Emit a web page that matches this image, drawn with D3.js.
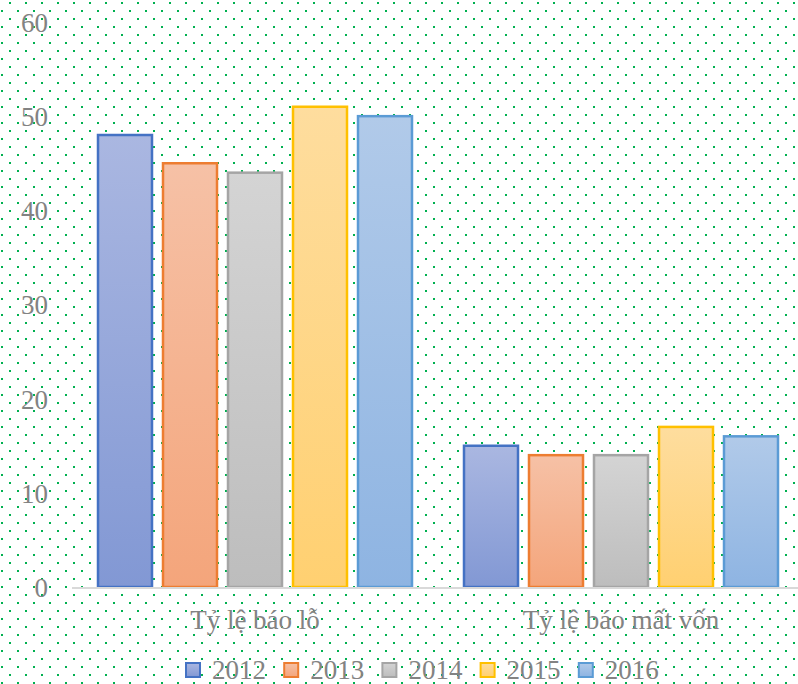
<!DOCTYPE html>
<html>
<head>
<meta charset="utf-8">
<script src="https://cdn.jsdelivr.net/npm/d3@7"></script>
<style>
  html, body { margin: 0; padding: 0; background: #fff; }
  svg { display: block; }
</style>
</head>
<body>
<svg id="chart" width="798" height="684"></svg>
<script>
// Chart data
const categories = ["Tỷ lệ báo lỗ", "Tỷ lệ báo mất vốn"];
const years = ["2012", "2013", "2014", "2015", "2016"];
const values2012 = [48, 15];
const values2013 = [45, 14];
const values2014 = [44, 14];
const values2015 = [51, 17];
const values2016 = [50, 16];
const yTicks = [0, 10, 20, 30, 40, 50, 60];

const seriesValues = [values2012, values2013, values2014, values2015, values2016];

// Palette: stroke plus light-to-deeper fill gradient per year
const strokeColors = ["#4472c4", "#ed7d31", "#a5a5a5", "#ffc000", "#5b9bd5"];
const gradTop = ["#aab7e1", "#f6c1a6", "#d4d4d4", "#fedd9e", "#b1cae9"];
const gradBottom = ["#8298d4", "#f4a57b", "#bdbdbd", "#ffd071", "#8eb4e2"];

const svg = d3.select("#chart");
const W = 798, H = 684;
const textColor = "#838383";
const fontFamily = "'Liberation Serif', 'Times New Roman', serif";

const defs = svg.append("defs");

// Green dotted background, pixel-aligned
const pat = defs.append("pattern")
  .attr("id", "dots")
  .attr("patternUnits", "userSpaceOnUse")
  .attr("width", 16).attr("height", 16);
pat.append("rect").attr("x", 9).attr("y", 2).attr("width", 2).attr("height", 2)
  .attr("fill", "#00b050").attr("shape-rendering", "crispEdges");
pat.append("rect").attr("x", 1).attr("y", 10).attr("width", 2).attr("height", 2)
  .attr("fill", "#00b050").attr("shape-rendering", "crispEdges");

svg.append("rect").attr("width", W).attr("height", H).attr("fill", "#ffffff");
svg.append("rect").attr("width", W).attr("height", H).attr("fill", "url(#dots)");

years.forEach((yr, i) => {
  const g = defs.append("linearGradient")
    .attr("id", "grad" + yr)
    .attr("x1", 0).attr("y1", 0).attr("x2", 0).attr("y2", 1);
  g.append("stop").attr("offset", "0%").attr("stop-color", gradTop[i]);
  g.append("stop").attr("offset", "100%").attr("stop-color", gradBottom[i]);
});

// Scales
const x0 = d3.scaleBand().domain(categories).range([72, 804]).padding(0);
const x1 = d3.scaleBand().domain(years).range([0, x0.bandwidth()])
  .paddingInner(11 / 65).paddingOuter(0.4);
const y = d3.scaleLinear().domain([0, 60]).range([587, 22]);

// Y axis labels (no axis line)
const yAxis = svg.append("g")
  .attr("transform", "translate(48,0)")
  .call(d3.axisLeft(y).tickValues(yTicks).tickSize(0).tickPadding(0));
yAxis.select(".domain").remove();
yAxis.selectAll("text")
  .attr("fill", textColor)
  .attr("font-family", fontFamily)
  .attr("font-size", 27)
  .attr("dy", "0.35em");

// Bars
const groups = svg.append("g").selectAll("g")
  .data(categories)
  .join("g")
  .attr("transform", d => `translate(${x0(d)},0)`);

groups.selectAll("rect")
  .data((c, ci) => years.map((yr, i) => ({ yr, i, v: seriesValues[i][ci] })))
  .join("rect")
  .attr("x", d => x1(d.yr))
  .attr("y", d => y(d.v))
  .attr("width", x1.bandwidth())
  .attr("height", d => y(0) - y(d.v))
  .attr("fill", d => `url(#grad${d.yr})`)
  .attr("stroke", d => strokeColors[d.i])
  .attr("stroke-width", 2.5);

// Baseline
svg.append("line")
  .attr("x1", 72).attr("x2", W)
  .attr("y1", y(0) + 1).attr("y2", y(0) + 1)
  .attr("stroke", "#d9d9d9").attr("stroke-width", 2);

// Category labels
const xAxis = svg.append("g")
  .attr("transform", `translate(0,${y(0)})`)
  .call(d3.axisBottom(x0).tickSize(0).tickPadding(0));
xAxis.select(".domain").remove();
xAxis.selectAll("text")
  .attr("fill", textColor)
  .attr("font-family", fontFamily)
  .attr("font-size", 27)
  .attr("dy", null)
  .attr("y", 42);

// Legend
const legend = svg.append("g").selectAll("g")
  .data(years)
  .join("g")
  .attr("transform", (d, i) => `translate(${186 + i * 98.2},663)`);
legend.append("rect")
  .attr("width", 14).attr("height", 14)
  .attr("fill", d => `url(#grad${d})`)
  .attr("stroke", (d, i) => strokeColors[i])
  .attr("stroke-width", 2);
legend.append("text")
  .attr("x", 26).attr("y", 16)
  .attr("fill", textColor)
  .attr("font-family", fontFamily)
  .attr("font-size", 27)
  .text(d => d);
</script>
</body>
</html>
